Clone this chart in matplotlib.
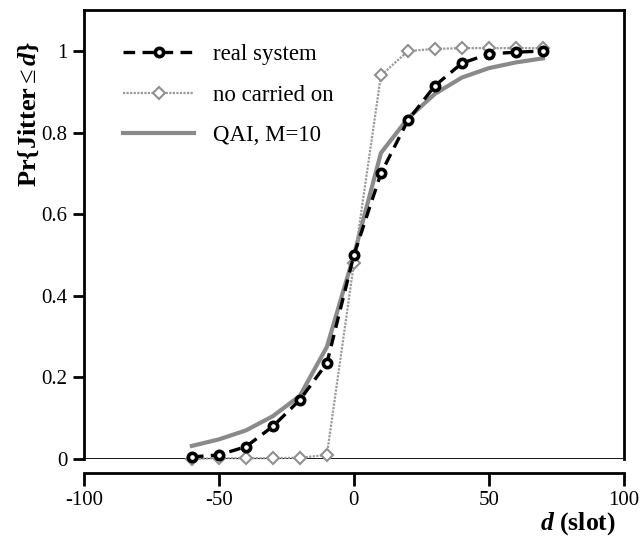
import matplotlib
matplotlib.use("Agg")
import matplotlib.pyplot as plt

plt.rcParams['font.family'] = ['Liberation Serif', 'DejaVu Serif']
plt.rcParams['mathtext.fontset'] = 'custom'
plt.rcParams['mathtext.rm'] = 'Liberation Serif'
plt.rcParams['mathtext.bf'] = 'Liberation Serif:bold'
plt.rcParams['mathtext.it'] = 'Liberation Serif:italic'
plt.rcParams['mathtext.bfit'] = 'Liberation Serif:bold:italic'
plt.rcParams['axes.unicode_minus'] = False

# data
d_real = [-60, -50, -40, -30, -20, -10, 0, 10, 20, 30, 40, 50, 60, 70]
p_real = [0.005, 0.01, 0.03, 0.08, 0.145, 0.235, 0.50, 0.70, 0.83, 0.915, 0.97, 0.993, 0.997, 1.0]

d_nco = [-60, -50, -40, -30, -20, -10, 0, 10, 20, 30, 40, 50, 60, 70]
p_nco = [0.0, 0.002, 0.002, 0.002, 0.003, 0.01, 0.48, 0.94, 1.0, 1.005, 1.007, 1.007, 1.007, 1.007]

d_qai = [-60, -50, -40, -30, -20, -10, 0, 10, 20, 30, 40, 50, 60, 70]
p_qai = [0.032, 0.048, 0.07, 0.105, 0.155, 0.275, 0.50, 0.75, 0.835, 0.895, 0.935, 0.958, 0.972, 0.982]

fig = plt.figure(figsize=(6.4, 5.36), dpi=100)
ax = fig.add_axes([0.131, 0.1437, 0.844, 0.8373])

# QAI curve (thick grey solid)
ax.plot(d_qai, p_qai, color='#8a8a8a', lw=3, label='QAI, M=10', zorder=2)
# no carried on (grey dotted with open diamonds)
ax.plot(d_nco, p_nco, color='#9a9a9a', lw=1.6, ls=(0, (1, 0.6)), marker='D', ms=6.5,
        mfc='white', mec='#909090', mew=1.5, label='no carried on', zorder=3, clip_on=False)
# real system (black dashed with circles)
ax.plot(d_real, p_real, color='black', lw=2.4, ls=(0, (3.5, 2.2)), marker='o', ms=6,
        mfc='white', mec='black', mew=2.6, label='real system', zorder=4, clip_on=False)

ax.axhline(0, color='black', lw=2, zorder=1)

ax.set_xlim(-100, 100)
ax.set_ylim(0, 1.10)
ax.set_xticks([-100, -50, 0, 50, 100])
ax.set_yticks([0, 0.2, 0.4, 0.6, 0.8, 1.0])
ax.set_yticklabels(['0', '0.2', '0.4', '0.6', '0.8', '1'])

for s in ['left', 'top', 'right', 'bottom']:
    ax.spines[s].set_linewidth(2)
ax.spines['bottom'].set_position(('outward', 10))
ax.tick_params(axis='both', direction='out', width=2, labelsize=15)
ax.tick_params(axis='x', length=9, pad=4)
ax.tick_params(axis='y', length=8, pad=4)

ax.set_ylabel(r'$\mathbf{Pr\{Jitter}\leq\mathbfit{d}\mathbf{\}}$', fontsize=19)
ax.yaxis.set_label_coords(-0.08, 0.77)
ax.set_xlabel(r'$\mathbfit{d}$ (slot)', fontsize=18.5, fontweight='bold')
ax.xaxis.set_label_coords(0.985, -0.143)
ax.xaxis.label.set_horizontalalignment('right')
ax.xaxis.label.set_verticalalignment('center')

handles, labels = ax.get_legend_handles_labels()
order = [2, 1, 0]
ax.legend([handles[i] for i in order], [labels[i] for i in order],
          loc='upper left', bbox_to_anchor=(0.035, 0.97), frameon=False,
          fontsize=16.5, handlelength=3.1, handletextpad=0.8, labelspacing=0.85, numpoints=1)

fig.savefig('out.png', dpi=100)
